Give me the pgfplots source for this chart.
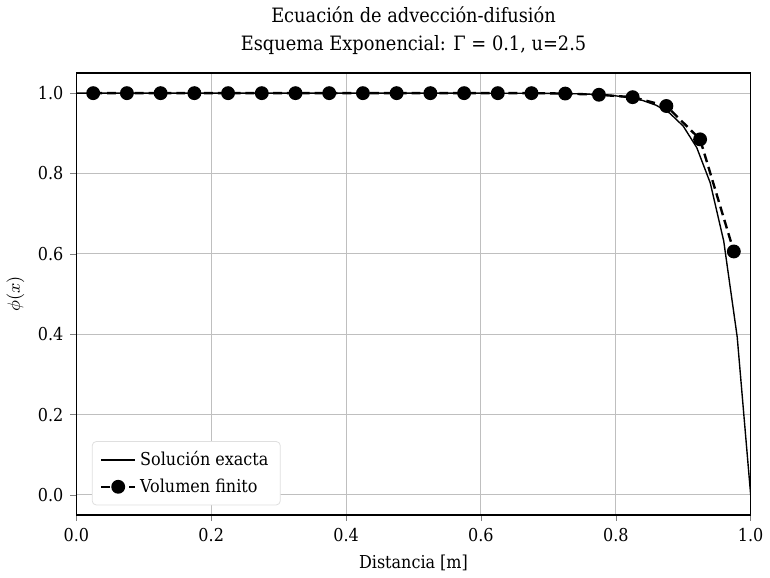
\documentclass[border=0pt]{standalone}
\usepackage{fontspec}
\setmainfont{DejaVu Serif Condensed}
\usepackage{pgfplots}
\pgfplotsset{compat=1.18}

\begin{document}
\begin{tikzpicture}
\begin{axis}[
  scale only axis,
  width=341pt, height=223.5pt,
  xmin=0, xmax=1, ymin=-0.05, ymax=1.05,
  xtick={0,0.2,...,1.0}, ytick={0,0.2,...,1.0},
  xticklabel style={/pgf/number format/.cd,fixed,fixed zerofill,precision=1},
  yticklabel style={/pgf/number format/.cd,fixed,fixed zerofill,precision=1},
  /pgf/number format/assume math mode=true,
  tick label style={font=\small},
  tick align=outside, xtick pos=lower, ytick pos=left,
  major tick length=3pt,
  grid=major, grid style={gray!50, line width=0.5pt},
  axis line style={line width=0.6pt},
  title={Ecuación de advección-difusión\\[2pt] Esquema Exponencial: Γ = 0.1, u=2.5},
  title style={align=center, font=\normalsize, yshift=0pt},
  xlabel={Distancia [m]}, ylabel={$\phi(x)$},
  label style={font=\small},
  xlabel style={yshift=0pt},
  legend style={at={(0.023,0.022)}, anchor=south west, font=\small,
    draw=gray!25, rounded corners=2pt, fill=white,
    inner xsep=4pt, inner ysep=3pt, row sep=1pt},
  legend cell align=left,
]
\addplot[black, line width=0.7pt] coordinates {
  (0,1) (0.1,1) (0.2,1) (0.3,1) (0.4,1) (0.5,0.99999) (0.6,0.99995)
  (0.7,0.99945) (0.72,0.99909) (0.74,0.99850) (0.76,0.99752) (0.78,0.99591)
  (0.8,0.99326) (0.82,0.98889) (0.84,0.98168) (0.86,0.96980) (0.88,0.95021)
  (0.9,0.91792) (0.92,0.86466) (0.94,0.77687) (0.96,0.63212) (0.98,0.39347)
  (1.0,0)
};
\addlegendentry{Solución exacta}
\addplot[black, line width=1.2pt, dash pattern=on 4.5pt off 2.5pt,
  mark=*, mark size=2.9pt, mark options={solid}] coordinates {
  (0.025,1) (0.075,1) (0.125,1) (0.175,1) (0.225,1) (0.275,1) (0.325,1)
  (0.375,1) (0.425,1) (0.475,1) (0.525,1) (0.575,1) (0.625,1) (0.675,1)
  (0.725,0.999) (0.775,0.996) (0.825,0.990) (0.875,0.968) (0.925,0.885)
  (0.975,0.606)
};
\addlegendentry{Volumen finito}
\end{axis}
\end{tikzpicture}
\end{document}
